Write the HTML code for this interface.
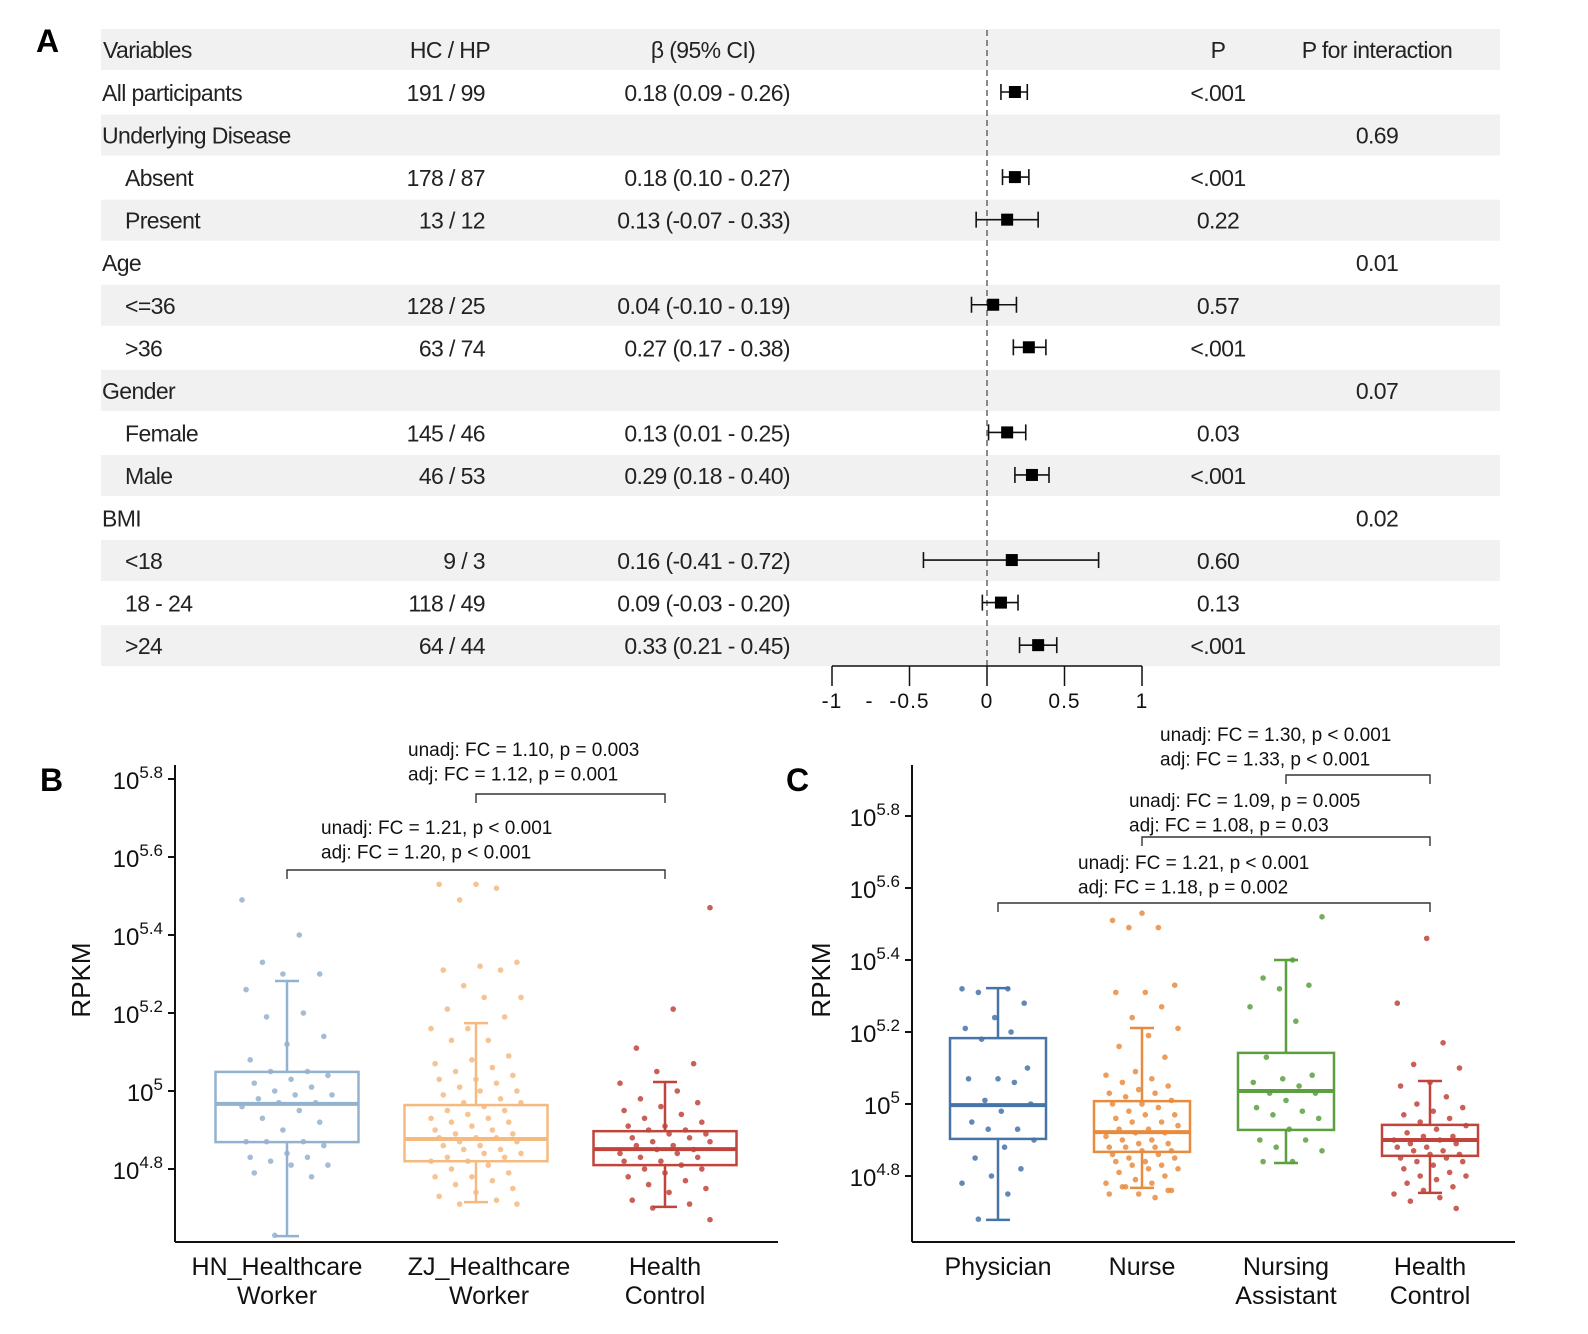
<!DOCTYPE html>
<html><head><meta charset="utf-8"><style>
html,body{margin:0;padding:0;background:#fff;}
svg{display:block;font-family:"Liberation Sans",Arial,sans-serif;}
</style></head><body>
<svg id="fig" width="1588" height="1334" viewBox="0 0 1588 1334">
<text x="36" y="52" font-size="32" font-weight="bold">A</text>
<text x="40" y="791" font-size="32" font-weight="bold">B</text>
<text x="786" y="791" font-size="32" font-weight="bold">C</text>
<g id="forest"></g>
<g id="panelB"></g>
<g id="panelC"></g>
</svg>
<script>
// ---------- Forest plot data ----------
const fLabels=["All participants","Underlying Disease","Absent","Present","Age","<=36",">36","Gender","Female","Male","BMI","<18","18 - 24",">24"];
const fIndent=[0,0,1,1,0,1,1,0,1,1,0,1,1,1];
const fCounts=["191 / 99","","178 / 87","13 / 12","","128 / 25","63 / 74","","145 / 46","46 / 53","","9 / 3","118 / 49","64 / 44"];
const fBeta=[0.18,null,0.18,0.13,null,0.04,0.27,null,0.13,0.29,null,0.16,0.09,0.33];
const fLo=[0.09,null,0.10,-0.07,null,-0.10,0.17,null,0.01,0.18,null,-0.41,-0.03,0.21];
const fHi=[0.26,null,0.27,0.33,null,0.19,0.38,null,0.25,0.40,null,0.72,0.20,0.45];
const fCI=["0.18 (0.09 - 0.26)","","0.18 (0.10 - 0.27)","0.13 (-0.07 - 0.33)","","0.04 (-0.10 - 0.19)","0.27 (0.17 - 0.38)","","0.13 (0.01 - 0.25)","0.29 (0.18 - 0.40)","","0.16 (-0.41 - 0.72)","0.09 (-0.03 - 0.20)","0.33 (0.21 - 0.45)"];
const fP=["<.001","","<.001","0.22","","0.57","<.001","","0.03","<.001","","0.60","0.13","<.001"];
const fPint=["","0.69","","","0.01","","","0.07","","","0.02","","",""];
const fShade=[0,1,0,1,0,1,0,1,0,1,0,1,0,1];
const fTicks=[-1,-0.5,0,0.5,1];
const fTickLabels=["-1","-0.5","0","0.5","1"];

// ---------- Panel B data ----------
const bCats=["HN_Healthcare\nWorker","ZJ_Healthcare\nWorker","Health\nControl"];
const bWhiskHi=[5.282,5.174,5.023];
const bQ3=[5.049,4.964,4.897];
const bMed=[4.967,4.877,4.851];
const bQ1=[4.869,4.820,4.810];
const bWhiskLo=[4.628,4.715,4.703];
const bPts0=[5.49,5.40,5.33,5.30,5.30,5.26,5.20,5.19,5.14,5.12,5.08,5.05,5.05,5.04,5.03,5.02,5.01,5.00,4.99,4.99,4.98,4.97,4.97,4.96,4.95,4.93,4.92,4.90,4.87,4.87,4.87,4.86,4.84,4.83,4.83,4.82,4.81,4.81,4.79,4.78,4.63];
const bPts1=[5.53,5.53,5.52,5.49,5.33,5.32,5.31,5.31,5.27,5.24,5.24,5.21,5.19,5.16,5.16,5.13,5.13,5.09,5.08,5.07,5.06,5.05,5.04,5.03,5.03,5.02,5.01,5.00,5.00,4.99,4.98,4.97,4.97,4.96,4.95,4.95,4.94,4.93,4.93,4.92,4.92,4.91,4.90,4.90,4.89,4.89,4.88,4.88,4.88,4.87,4.87,4.86,4.86,4.85,4.85,4.84,4.84,4.83,4.83,4.82,4.82,4.81,4.80,4.79,4.78,4.78,4.77,4.76,4.75,4.74,4.73,4.72,4.71,4.71];
const bPts2=[5.47,5.21,5.11,5.07,5.05,5.02,5.00,4.98,4.97,4.96,4.95,4.94,4.93,4.92,4.91,4.91,4.90,4.90,4.89,4.89,4.88,4.88,4.87,4.87,4.86,4.86,4.85,4.85,4.84,4.84,4.83,4.83,4.82,4.82,4.81,4.80,4.80,4.79,4.78,4.77,4.76,4.75,4.74,4.72,4.71,4.70,4.67];
const bTicks=[4.8,5,5.2,5.4,5.6,5.8];
const bTickLabels=["4.8","","5.2","5.4","5.6","5.8"];

// ---------- Panel C data ----------
const cCats=["Physician","Nurse","Nursing\nAssistant","Health\nControl"];
const cWhiskHi=[5.322,5.211,5.400,5.064];
const cQ3=[5.183,5.008,5.142,4.942];
const cMed=[4.997,4.922,5.036,4.900];
const cQ1=[4.903,4.867,4.928,4.856];
const cWhiskLo=[4.678,4.767,4.836,4.753];
const cPts0=[5.32,5.32,5.31,5.28,5.24,5.21,5.20,5.18,5.10,5.07,5.07,5.06,5.01,5.00,4.98,4.95,4.93,4.93,4.90,4.88,4.85,4.82,4.80,4.78,4.75,4.68];
const cPts1=[5.53,5.51,5.49,5.49,5.33,5.31,5.31,5.27,5.24,5.21,5.19,5.16,5.13,5.09,5.08,5.07,5.06,5.05,5.04,5.03,5.03,5.02,5.01,5.00,5.00,4.99,4.98,4.97,4.97,4.96,4.95,4.95,4.94,4.93,4.93,4.92,4.92,4.91,4.90,4.90,4.89,4.89,4.88,4.88,4.88,4.87,4.87,4.86,4.86,4.85,4.85,4.84,4.84,4.83,4.83,4.82,4.82,4.81,4.80,4.79,4.78,4.78,4.77,4.76,4.75,4.75,4.74,4.77,4.76];
const cPts2=[5.52,5.40,5.35,5.33,5.32,5.27,5.23,5.13,5.08,5.07,5.06,5.05,5.03,5.03,5.01,4.99,4.98,4.97,4.96,4.93,4.90,4.90,4.88,4.87,4.84,4.84];
const cPts3=[5.46,5.28,5.17,5.11,5.10,5.06,5.05,5.02,5.00,4.99,4.98,4.97,4.96,4.95,4.94,4.93,4.92,4.91,4.91,4.90,4.90,4.89,4.89,4.88,4.88,4.87,4.87,4.86,4.86,4.85,4.85,4.84,4.84,4.83,4.82,4.81,4.80,4.80,4.79,4.78,4.77,4.76,4.75,4.74,4.73,4.71];
const cTicks=[4.8,5,5.2,5.4,5.6,5.8];
const cTickLabels=["4.8","","5.2","5.4","5.6","5.8"];

const NS="http://www.w3.org/2000/svg";
function mk(parent,tag,attrs,text){const e=document.createElementNS(NS,tag);for(const k in attrs)e.setAttribute(k,attrs[k]);if(text!==undefined)e.textContent=text;parent.appendChild(e);return e;}

// ---------- Forest ----------
(function(){
const g=document.getElementById('forest');
const rowY=i=>93+(i)*42.55;
const xf=v=>987+v*155;
const FS=23;
const LS='-0.6';
let r=mk(g,'rect',{x:101,y:29,width:1399,height:41,fill:'#f0f1f0'});

for(let i=0;i<fLabels.length;i++){
 if(fShade[i]){const b=mk(g,'rect',{x:101,y:rowY(i)-21,width:1399,height:41,fill:'#f0f1f0'});
 }
}
const hdr=[["Variables",103,'start'],["HC / HP",450,'middle'],["β (95% CI)",703,'middle'],["P",1218,'middle'],["P for interaction",1377,'middle']];
hdr.forEach(h=>{const t=mk(g,'text',{x:h[1],y:58,'font-size':FS,'text-anchor':h[2],fill:'#222','letter-spacing':LS},h[0]);
 });
const dl=mk(g,'line',{x1:xf(0),y1:30,x2:xf(0),y2:666,stroke:'#666','stroke-width':1.5,'stroke-dasharray':'6,4'});

for(let i=0;i<fLabels.length;i++){
 const y=rowY(i)+8;
 let t=mk(g,'text',{x:fIndent[i]?125:102,y:y,'font-size':FS,fill:'#222','letter-spacing':LS},fLabels[i]);
 
 if(fCounts[i]){t=mk(g,'text',{x:485,y:y,'font-size':FS,'text-anchor':'end',fill:'#222','letter-spacing':LS},fCounts[i]);
 }
 if(fCI[i]){t=mk(g,'text',{x:790,y:y,'font-size':FS,'text-anchor':'end',fill:'#222','letter-spacing':LS},fCI[i]);
 }
 if(fP[i]){t=mk(g,'text',{x:1218,y:y,'font-size':FS,'text-anchor':'middle',fill:'#222','letter-spacing':LS},fP[i]);
 }
 if(fPint[i]){t=mk(g,'text',{x:1377,y:y,'font-size':FS,'text-anchor':'middle',fill:'#222','letter-spacing':LS},fPint[i]);
 }
 if(fBeta[i]!==null){
  const yc=rowY(i)-1;
  const gg=mk(g,'g',{});
  
  mk(gg,'line',{x1:xf(fLo[i]),y1:yc,x2:xf(fHi[i]),y2:yc,stroke:'#111','stroke-width':1.6});
  mk(gg,'line',{x1:xf(fLo[i]),y1:yc-8,x2:xf(fLo[i]),y2:yc+8,stroke:'#111','stroke-width':1.6});
  mk(gg,'line',{x1:xf(fHi[i]),y1:yc-8,x2:xf(fHi[i]),y2:yc+8,stroke:'#111','stroke-width':1.6});
  mk(gg,'rect',{x:xf(fBeta[i])-6,y:yc-6,width:12,height:12,fill:'#000'});
 }
}
const ax=mk(g,'g',{});
mk(ax,'line',{x1:xf(-1),y1:666,x2:xf(1),y2:666,stroke:'#111','stroke-width':1.5});
fTicks.forEach((v,k)=>{mk(ax,'line',{x1:xf(v),y1:666,x2:xf(v),y2:686,stroke:'#111','stroke-width':1.5});
 const t=mk(ax,'text',{x:xf(v),y:708,'font-size':21,'text-anchor':'middle',fill:'#111','letter-spacing':'1'},fTickLabels[k]);
 });
const dash=mk(ax,'text',{x:869,y:708,'font-size':21,'text-anchor':'middle',fill:'#111'},"-");

})();

// ---------- Box plots ----------
function boxPanel(gid,o){
 const g=document.getElementById(gid);
 const y=v=>o.y0-(v-5)*o.k;
 const ax=mk(g,'g',{});
 mk(ax,'line',{x1:o.ax,y1:o.top,x2:o.ax,y2:o.bot,stroke:'#111','stroke-width':2});
 mk(ax,'line',{x1:o.ax,y1:o.bot,x2:o.right,y2:o.bot,stroke:'#111','stroke-width':2});
 o.ticks.forEach((v,k)=>{
  mk(ax,'line',{x1:o.ax-7,y1:y(v),x2:o.ax,y2:y(v),stroke:'#111','stroke-width':2});
  const t=mk(ax,'text',{x:o.ax-12,y:y(v)+10,'font-size':24,'text-anchor':'end',fill:'#111'});
  
  const lab=o.tickLabels[k];
  mk(t,'tspan',{},"10");mk(t,'tspan',{'font-size':17,dy:-11},lab?lab:"5");
 });
 const yl=mk(g,'text',{x:0,y:0,'font-size':26,'text-anchor':'middle',fill:'#111',transform:`translate(${o.ylx},${o.yly}) rotate(-90)`},"RPKM");
 
 o.cats.forEach((c,i)=>{
  const cx=o.cx[i],col=o.colors[i],hw=o.bw/2;
  const bg=mk(g,'g',{});
  mk(bg,'line',{x1:cx,y1:y(o.hi[i]),x2:cx,y2:y(o.q3[i]),stroke:col,'stroke-width':2.5});
  mk(bg,'line',{x1:cx,y1:y(o.q1[i]),x2:cx,y2:y(o.lo[i]),stroke:col,'stroke-width':2.5});
  mk(bg,'line',{x1:cx-12,y1:y(o.hi[i]),x2:cx+12,y2:y(o.hi[i]),stroke:col,'stroke-width':2.5});
  mk(bg,'line',{x1:cx-12,y1:y(o.lo[i]),x2:cx+12,y2:y(o.lo[i]),stroke:col,'stroke-width':2.5});
  mk(bg,'rect',{x:cx-hw,y:y(o.q3[i]),width:o.bw,height:y(o.q1[i])-y(o.q3[i]),fill:'none',stroke:col,'stroke-width':2.5});
  mk(bg,'line',{x1:cx-hw,y1:y(o.med[i]),x2:cx+hw,y2:y(o.med[i]),stroke:col,'stroke-width':4});
  const pts=o.pts[i];
  pts.forEach((v,j)=>{const off=(((j*37+i*11)%23)-11)/11*o.jit;
   const p=mk(g,'circle',{cx:cx+off,cy:y(v),r:2.8,fill:col,opacity:0.85});
   });
  c.split("\n").forEach((ln,k)=>{const t=mk(g,'text',{x:cx+(o.lx?o.lx[i]:0),y:o.bot+33+k*29,'font-size':25,'text-anchor':'middle',fill:'#111'},ln);
   });
 });
 o.ann.forEach(a=>{
  const ag=mk(g,'g',{});
  mk(ag,'text',{x:a.tx,y:a.ty,'font-size':19,fill:'#111'},a.t1);
  mk(ag,'text',{x:a.tx,y:a.ty+24.5,'font-size':19,fill:'#111'},a.t2);
  mk(ag,'path',{d:`M${o.cx[a.a]},${a.by+9}V${a.by}H${o.cx[a.b]}V${a.by+9}`,fill:'none',stroke:'#333','stroke-width':1.4});
 });
}
boxPanel('panelB',{y0:1091,k:390,ax:175,top:765,bot:1242,right:778,ylx:90,yly:980,
 ticks:bTicks,tickLabels:bTickLabels,cats:bCats,cx:[287,476,665],lx:[-10,13,0],bw:143,jit:45,
 colors:['#93b2cf','#f4ba80','#c0443b'],hi:bWhiskHi,q3:bQ3,med:bMed,q1:bQ1,lo:bWhiskLo,pts:[bPts0,bPts1,bPts2],
 ann:[{tx:408,ty:756,t1:"unadj: FC = 1.10, p = 0.003",t2:"adj: FC = 1.12, p = 0.001",a:1,b:2,by:794},
      {tx:321,ty:834,t1:"unadj: FC = 1.21,  p < 0.001",t2:"adj: FC = 1.20,  p < 0.001",a:0,b:2,by:870}]});
boxPanel('panelC',{y0:1104,k:360,ax:912,top:765,bot:1242,right:1515,ylx:830,yly:980,
 ticks:cTicks,tickLabels:cTickLabels,cats:cCats,cx:[998,1142,1286,1430],bw:96,jit:36,
 colors:['#4674a9','#e98b3e','#5c9f3f','#c0443b'],hi:cWhiskHi,q3:cQ3,med:cMed,q1:cQ1,lo:cWhiskLo,pts:[cPts0,cPts1,cPts2,cPts3],
 ann:[{tx:1160,ty:741,t1:"unadj: FC = 1.30, p < 0.001",t2:"adj: FC = 1.33, p < 0.001",a:2,b:3,by:775},
      {tx:1129,ty:807,t1:"unadj: FC = 1.09, p = 0.005",t2:"adj: FC = 1.08, p = 0.03",a:1,b:3,by:837},
      {tx:1078,ty:869,t1:"unadj: FC = 1.21, p < 0.001",t2:"adj: FC = 1.18, p = 0.002",a:0,b:3,by:903}]});
</script>
</body></html>
